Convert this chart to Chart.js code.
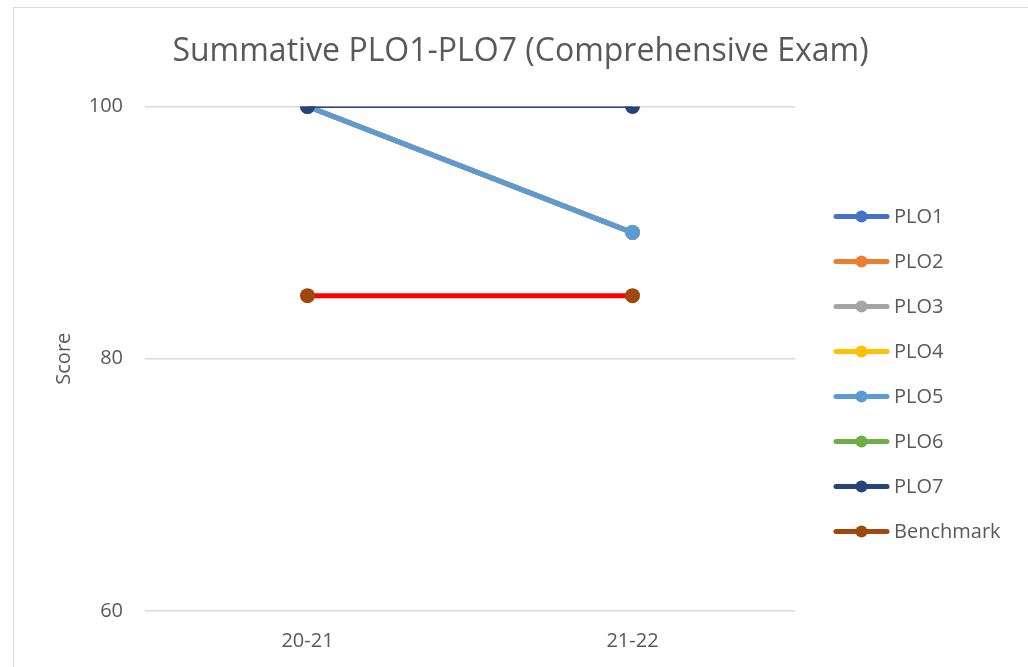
<!DOCTYPE html>
<html>
<head>
<meta charset="utf-8">
<script src="https://cdn.jsdelivr.net/npm/chart.js@4/dist/chart.umd.min.js"></script>
<style>
    body { margin: 0; background: #fff; }
    #frame { position: absolute; left: 13px; top: 7px; width: 1100px; height: 700px; border-left: 1px solid #d9d9d9; border-top: 1px solid #d9d9d9; }
    #chart { position: absolute; left: 0; top: 0; }
</style>
</head>
<body>
<div id="frame"></div>
<canvas id="chart" width="1028" height="667"></canvas>
<script>
const labels = ['20-21', '21-22'];

const plo1 = [100, 90];
const plo2 = [100, 90];
const plo3 = [100, 90];
const plo4 = [100, 90];
const plo5 = [100, 90];
const plo6 = [null, null];
const plo7 = [100, 100];
const benchmark = [85, 85];

const yMin = 60;
const yMax = 100;
const yStep = 20;

const names = ['PLO1', 'PLO2', 'PLO3', 'PLO4', 'PLO5', 'PLO6', 'PLO7', 'Benchmark'];
const values = [plo1, plo2, plo3, plo4, plo5, plo6, plo7, benchmark];
const colors = ['#4472C4', '#ED7D31', '#A5A5A5', '#FFC000', '#5B9BD5', '#70AD47', '#264478', '#9E480E'];
const lineColors = ['#4472C4', '#ED7D31', '#A5A5A5', '#FFC000', '#5B9BD5', '#70AD47', '#264478', '#FF0000'];
const widths = [5, 5, 5, 5, 5, 5, 3, 5];

const font = 'Open Sans';
const grey = '#595959';

// excel draws later series on top, chart.js the other way round -> use order
const datasets = names.map((name, i) => ({
    label: name,
    data: values[i],
    borderColor: lineColors[i],
    backgroundColor: colors[i],
    pointBackgroundColor: colors[i],
    pointBorderWidth: 0,
    pointRadius: 7.5,
    pointHoverRadius: 7.5,
    borderWidth: widths[i],
    order: names.length - 1 - i
}));

// legend on the right: line with a dot, like excel does it
const sideLegend = {
    id: 'sideLegend',
    afterDraw(chart) {
        const ctx = chart.ctx;
        const x0 = chart.chartArea.right + 39;
        const y0 = chart.chartArea.top + 110;
        ctx.save();
        ctx.font = '20px "' + font + '"';
        ctx.textBaseline = 'middle';
        chart.data.datasets.forEach((ds, i) => {
            const y = y0 + i * 45;
            ctx.strokeStyle = ds.pointBackgroundColor;
            ctx.lineWidth = 5;
            ctx.lineCap = 'round';
            ctx.beginPath();
            ctx.moveTo(x0 + 2, y);
            ctx.lineTo(x0 + 53, y);
            ctx.stroke();
            ctx.fillStyle = ds.pointBackgroundColor;
            ctx.beginPath();
            ctx.arc(x0 + 27.5, y, 6, 0, Math.PI * 2);
            ctx.fill();
            ctx.fillStyle = grey;
            ctx.fillText(ds.label, x0 + 60, y + 1);
        });
        ctx.restore();
    }
};

const config = {
    type: 'line',
    data: {
        labels: labels,
        datasets: datasets
    },
    options: {
        responsive: false,
        animation: false,
        layout: { padding: { left: 13, top: 0, right: 0, bottom: 0 } },
        plugins: {
            legend: { display: false },
            tooltip: { enabled: false },
            title: {
                display: true,
                text: 'Summative PLO1-PLO7 (Comprehensive Exam)',
                color: grey,
                font: { family: font, size: 32, weight: 'normal' },
                padding: { top: 33, bottom: 35 }
            }
        },
        scales: {
            x: {
                offset: true,
                grid: { display: false },
                border: { display: false },
                ticks: { color: grey, font: { family: font, size: 20 }, padding: 10 },
                afterFit: s => { s.height = 56; }
            },
            y: {
                min: yMin,
                max: yMax,
                border: { display: false },
                grid: { color: '#d9d9d9', lineWidth: 1.5, drawTicks: false },
                ticks: { stepSize: yStep, color: grey, font: { family: font, size: 20 }, padding: 22 },
                title: {
                    display: true,
                    text: 'Score',
                    color: grey,
                    font: { family: font, size: 20 },
                    padding: { top: 39 }
                },
                afterFit: s => { s.width = 132; }
            },
            // empty scale, only keeps room for the legend
            side: {
                type: 'linear',
                position: 'right',
                grid: { display: false },
                border: { display: false },
                ticks: { display: false },
                afterFit: s => { s.width = 233; }
            }
        }
    },
    plugins: [sideLegend]
};

const myChart = new Chart(document.getElementById('chart'), config);
</script>
</body>
</html>
